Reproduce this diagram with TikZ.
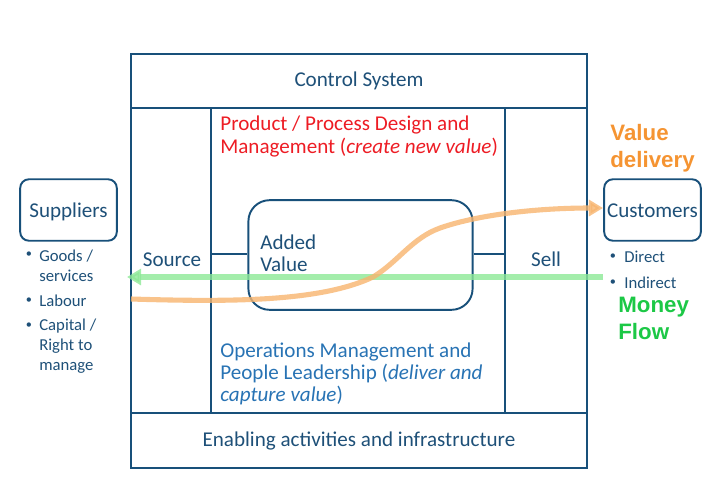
\documentclass[tikz,border=0pt]{standalone}
\usepackage{fontspec}
\setmainfont{Carlito}
\newfontfamily\headfont{Liberation Sans}
\usepackage{tikz}
\usetikzlibrary{arrows.meta}
\definecolor{framecol}{RGB}{24,80,122}
\definecolor{textcol}{RGB}{30,80,120}
\definecolor{opscol}{RGB}{40,115,180}
\definecolor{designcol}{RGB}{237,28,36}
\definecolor{valuecol}{RGB}{245,148,50}
\definecolor{valueline}{RGB}{247,180,110}
\definecolor{moneycol}{RGB}{28,200,70}
\definecolor{moneyline}{RGB}{140,232,150}
\tikzset{
  frameline/.style = {draw=framecol, line width=1.1pt},
  thinline/.style = {draw=framecol, line width=0.8pt},
  party/.style = {frameline, rounded corners=5pt, minimum width=55pt, minimum height=35pt, inner sep=0pt, text height=9pt, text depth=0pt, text=textcol, font=\fontsize{12}{13}\selectfont},
  label/.style = {inner sep=0pt, text=textcol, font=\fontsize{12}{12.6}\selectfont},
  small/.style = {anchor=west, align=left, inner sep=0pt, text=textcol, font=\fontsize{9.5}{11.2}\selectfont},
  dot/.style = {inner sep=0pt, text=textcol, font=\fontsize{7}{9}\selectfont},
  flowtext/.style = {anchor=west, align=left, inner sep=0pt, font=\headfont\bfseries\fontsize{12.7}{15.4}\selectfont},
  flowline/.style = {line width=2.9pt, opacity=0.8, -{Triangle[length=8pt,width=9pt]}}
}
\begin{document}
\begin{tikzpicture}[x=0.02cm,y=-0.02cm]
\useasboundingbox (0,0) rectangle (720,498);

\coordinate (nw) at (131,54);
\coordinate (se) at (587,468);
\coordinate (topl) at (131,108);
\coordinate (topr) at (587,108);
\coordinate (botl) at (131,413);
\coordinate (botr) at (587,413);
\coordinate (midlt) at (211,108);
\coordinate (midlb) at (211,413);
\coordinate (midrt) at (505,108);
\coordinate (midrb) at (505,413);
\coordinate (linkl) at (211,254);
\coordinate (linkr) at (505,254);

\draw[frameline] (nw) rectangle (se);
\draw[frameline] (topl)--(topr);
\draw[frameline] (botl)--(botr);
\draw[thinline] (midlt)--(midlb);
\draw[thinline] (midrt)--(midrb);

\node[frameline, rounded corners=12pt, minimum width=127.6pt, minimum height=62.4pt, inner sep=0pt] (added) at (360.5,255) {};
\draw[thinline] (linkl)--(linkl-|added.west);
\draw[thinline] (linkr-|added.east)--(linkr);

\node[party] (suppliers) at (68.5,210) {Suppliers};
\node[party] (customers) at (652.5,210) {Customers};

\node[label] (control) at (359,81) {Control System};
\node[label] (enabling) at (359,440.5) {Enabling activities and infrastructure};
\node[label] (source) at (172,260) {Source};
\node[label] (sell) at (546,259.5) {Sell};
\node[label, anchor=west, align=left] (addedtext) at (260,253) {Added\\Value};
\node[label, anchor=west, align=left, text=designcol] (design) at (220,136.5) {Product / Process Design and\\Management (\textit{create new value})};
\node[label, anchor=west, align=left, text=opscol] (ops) at (220,374) {Operations Management and\\People Leadership (\textit{deliver and}\\\textit{capture value})};

\node[dot] (d1) at (29,255) {•};
\node[small] (goods) at (39,266) {Goods /\\services};
\node[dot] (d2) at (29,301) {•};
\node[small] (labour) at (39,301) {Labour};
\node[dot] (d3) at (29,326) {•};
\node[small] (capital) at (39,346) {Capital /\\Right to\\manage};
\node[dot] (d4) at (613,257) {•};
\node[small] (direct) at (624,257) {Direct};
\node[dot] (d5) at (613,283) {•};
\node[small] (indirect) at (624,283) {Indirect};

\node[flowtext, text=valuecol] (delivery) at (610,148) {Value\\delivery};
\node[flowtext, text=moneycol] (money) at (618,318) {Money\\Flow};

\coordinate (moneyend) at (127,277);
\draw[flowline, draw=moneyline] (customers.west|-moneyend)--(moneyend);
\coordinate (valuestart) at (131,299);
\coordinate (valueend) at (603,208);
\draw[flowline, draw=valueline] (valuestart) .. controls (230,302) and (320,302) .. (373,277) .. controls (398,262) and (412,238) .. (440,228) .. controls (480,214) and (540,208) .. (valueend);
\end{tikzpicture}
\end{document}
